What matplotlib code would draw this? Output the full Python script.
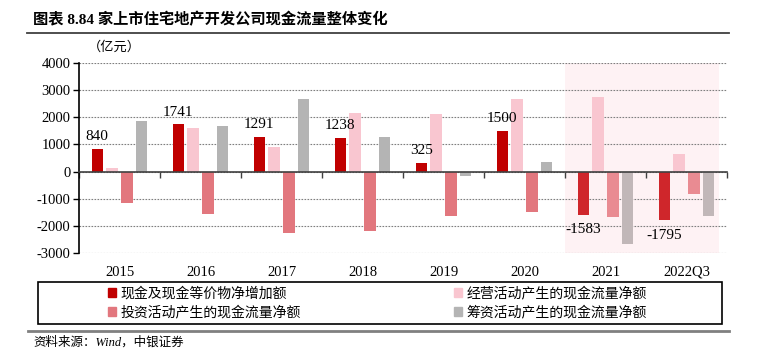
import matplotlib
matplotlib.use("Agg")
import matplotlib.pyplot as plt
import numpy as np
from matplotlib.patches import Patch, Rectangle
from matplotlib.lines import Line2D

plt.rcParams["axes.unicode_minus"] = False

categories = ["2015", "2016", "2017", "2018", "2019", "2020", "2021", "2022Q3"]
cash_net = [840, 1741, 1291, 1238, 325, 1500, -1583, -1795]
operating = [147, 1600, 920, 2170, 2110, 2670, 2745, 650]
investing = [-1160, -1555, -2280, -2205, -1655, -1507, -1665, -810]
financing = [1860, 1680, 2670, 1265, -147, 345, -2660, -1655]

series_names = ["现金及现金等价物净增加额", "经营活动产生的现金流量净额",
                "投资活动产生的现金流量净额", "筹资活动产生的现金流量净额"]

CJK = "Noto Sans CJK SC"
SERIF = "Liberation Serif"

base_colors = ["#C00000", "#F9C6D0", "#E2777E", "#B4B4B4"]
hl_colors = ["#CF262B", "#F9C6D0", "#E98B92", "#C1B7B8"]

fig = plt.figure(figsize=(7.65, 3.52), dpi=100)
ax = fig.add_axes([79/765, 1-253/352, (727-79)/765, (253-63)/352])

x = np.arange(len(categories))
offsets = [-0.275, -0.092, 0.092, 0.275]
width = 0.14
all_series = [cash_net, operating, investing, financing]
for si, vals in enumerate(all_series):
    cols = [hl_colors[si] if i >= 6 else base_colors[si] for i in range(len(categories))]
    ax.bar(x + offsets[si], vals, width=width, color=cols, zorder=2, linewidth=0)

ax.axvspan(5.5, 7.4, color="#FEF2F4", zorder=0, linewidth=0)

ax.set_xlim(-0.5, 7.5)
ax.set_ylim(-3000, 4000)
ax.set_yticks(np.arange(-3000, 4001, 1000))
ax.yaxis.grid(True, linestyle=(0, (1.5, 1.2)), color="#7F7F7F", linewidth=0.8, zorder=1)
ax.set_axisbelow(True)
for lab in ax.get_yticklabels():
    lab.set_fontfamily(SERIF)
    lab.set_fontsize(10.5)
ax.tick_params(axis="y", direction="out", length=4, width=1, pad=2, colors="black")

for s in ["top", "right"]:
    ax.spines[s].set_visible(False)
ax.spines["bottom"].set_position(("data", 0))
ax.spines["left"].set_linewidth(1.2)
ax.spines["bottom"].set_linewidth(1.2)
ax.spines["bottom"].set_color("#404040")
ax.set_xticks(np.arange(-0.5, 8, 1))
ax.set_xticklabels([])
ax.tick_params(axis="x", direction="out", length=4, width=1, colors="#404040")

for i, c in enumerate(categories):
    ax.text(i, -0.1, c, transform=ax.get_xaxis_transform(), ha="center", va="center",
            fontfamily=SERIF, fontsize=10.5)

for i, v in enumerate(cash_net):
    if v >= 0:
        ax.annotate(str(v), (x[i] + offsets[0], v), xytext=(0, 4), textcoords="offset points",
                    ha="center", va="bottom", fontfamily=SERIF, fontsize=11)
    else:
        ax.annotate(str(v), (x[i] + offsets[0], v), xytext=(0, -6), textcoords="offset points",
                    ha="center", va="top", fontfamily=SERIF, fontsize=11)

# unit label
fig.text(88/765, 1-47/352, "（亿元）", fontfamily=CJK, fontsize=9.5, ha="left", va="center")

# title
fig.text(33/765, 1-20/352, "图表 8.84 家上市住宅地产开发公司现金流量整体变化",
         fontfamily=[SERIF, CJK], fontweight="bold", fontsize=11, ha="left", va="center")
fig.add_artist(Line2D([27/765, 729/765], [1-33/352, 1-33/352], color="#404040", linewidth=1.3))

# legend
handles = [Patch(color=base_colors[0]), Patch(color=base_colors[2]),
           Patch(color=base_colors[1]), Patch(color=base_colors[3])]
labels = [series_names[0], series_names[2], series_names[1], series_names[3]]
leg = fig.legend(handles, labels, ncol=2, loc="center left",
                 bbox_to_anchor=(108/765, 1-303/352), frameon=False,
                 prop={"family": CJK, "size": 10}, handlelength=0.6, handleheight=0.6,
                 handletextpad=0.3, columnspacing=11.0, labelspacing=0.35, borderaxespad=0,
                 borderpad=0)
fig.add_artist(Rectangle((38/765, 1-324/352), (722-38)/765, (324-282)/352,
                         transform=fig.transFigure, fill=False, edgecolor="black", linewidth=1.2))

fig.add_artist(Line2D([28/765, 729/765], [1-331/352, 1-331/352], color="#808080", linewidth=2))
fig.text(33/765, 1-342/352, "资料来源：Wind，中银证券", fontfamily=[SERIF, CJK],
         fontstyle="italic", fontsize=9, ha="left", va="center")

fig.savefig("out.png", dpi=100)
